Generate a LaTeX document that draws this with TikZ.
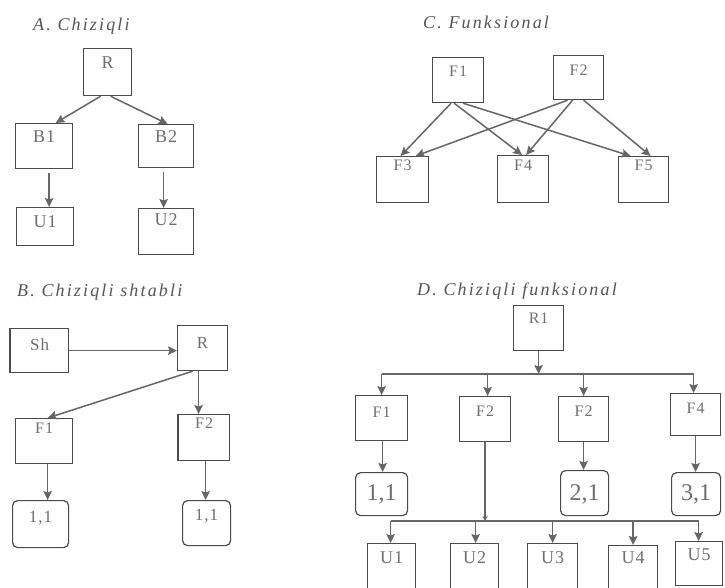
\documentclass[tikz,border=0pt]{standalone}
\usepackage{fontspec}
\setmainfont{Liberation Serif}[LetterSpace=6]
\usetikzlibrary{arrows.meta,calc}
\definecolor{bordc}{HTML}{4A4A4A}
\definecolor{txtc}{HTML}{6E6E6E}
\definecolor{arrc}{HTML}{666666}
\definecolor{ttlc}{HTML}{555555}
\tikzset{
  bx/.style={draw=bordc, line width=1.2pt, inner sep=0pt, anchor=north west, text=txtc},
  rbx/.style={bx, rounded corners=5pt},
  dims/.style n args={3}{minimum width=#1pt, text height=#2pt, text depth=#3pt},
  fs/.style={font=\fontsize{#1}{#1}\selectfont},
  dg/.style={font=\fontsize{24}{24}\selectfont\addfontfeatures{LetterSpace=0}},
  arr/.style={draw=arrc, line width=1.5pt, -{Stealth[length=9pt,width=8.5pt,inset=1.5pt]}},
  ln/.style={draw=arrc, line width=1.5pt},
  ttl/.style={anchor=base west, inner sep=0pt, text=ttlc,
    font=\fontsize{18}{18}\selectfont\itshape\addfontfeatures{LetterSpace=12}},
}
\begin{document}
\begin{tikzpicture}[x=1pt,y=-1pt]
\useasboundingbox (0,0) rectangle (725,587);
\clip (0,0) rectangle (725,587);
\fill[white] (0,0) rectangle (725,587);

% ---------- A. Chiziqli ----------
\node[ttl] (tA) at (33,30) {A. Chiziqli};
\node[bx, dims={48}{20}{27}, fs=18] (aR) at (83,48) {R};
\node[bx, dims={57}{19}{26}, fs=18] (aB1) at (15,123) {B1};
\node[bx, dims={55}{18}{25}, fs=18] (aB2) at (138,124) {B2};
\node[bx, dims={57}{20}{18}, fs=18] (aU1) at (16,207) {U1};
\node[bx, dims={55}{17}{29}, fs=18] (aU2) at (138,208) {U2};
\draw[arr] ([xshift=-7pt]aR.south) -- ([xshift=11.5pt]aB1.north);
\draw[arr] ([xshift=3pt]aR.south) -- ([xshift=1.5pt]aB2.north);
\draw[arr, shorten <=4pt] ([xshift=5pt]aB1.south) -- ([xshift=5pt]aB1.south |- aU1.north);
\draw[arr, shorten <=4pt] ([xshift=-2.5pt]aB2.south) -- ([xshift=-2.5pt]aB2.south |- aU2.north);

% ---------- C. Funksional ----------
\node[ttl] (tC) at (423,28) {C. Funksional};
\node[bx, dims={51}{19}{26}, fs=16] (cF1) at (432,57) {F1};
\node[bx, dims={50}{20}{24}, fs=16] (cF2) at (553,55) {F2};
\node[bx, dims={52}{14}{32}, fs=16] (cF3) at (376,156) {F3};
\node[bx, dims={51}{15}{32}, fs=16] (cF4) at (497,155) {F4};
\node[bx, dims={50}{14}{32}, fs=16] (cF5) at (618,156) {F5};
\draw[arr] ([xshift=-7pt]cF1.south) -- ([xshift=-2pt]cF3.north);
\draw[arr] ([xshift=-4pt]cF1.south) -- ([xshift=-1pt]cF4.north);
\draw[arr] ([xshift=5pt]cF1.south) -- ([xshift=-13pt]cF5.north);
\draw[arr] ([xshift=-11pt]cF2.south) -- ([xshift=13pt]cF3.north);
\draw[arr] ([xshift=-6pt]cF2.south) -- ([xshift=3pt]cF4.north);
\draw[arr] ([xshift=5pt]cF2.south) -- ([xshift=7pt]cF5.north);

% ---------- B. Chiziqli shtabli ----------
\node[ttl] (tB) at (17,296) {B. Chiziqli shtabli};
\node[bx, dims={58}{22}{22}, fs=17] (bSh) at (10,328) {Sh};
\draw[draw=bordc, line width=2.2pt] (bSh.north west) -- (bSh.south west);
\node[bx, dims={50}{23}{22}, fs=17] (bR) at (177,325) {R};
\node[bx, dims={57}{15}{30}, fs=16] (bF1) at (15,418) {F1};
\node[bx, dims={51}{14}{32}, fs=16] (bF2) at (178,414) {F2};
\draw[draw=bordc, line width=2.2pt] (bF2.north west) -- (bF2.south west);
\node[rbx, dims={56}{22}{25}, fs=17] (bL1) at (12,500) {1,1};
\node[rbx, dims={48}{20}{25}, fs=17] (bL2) at (182,500) {1,1};
\draw[arr] (bSh.east) -- (bSh.east -| bR.west);
\draw[arr] ([xshift=-10pt]bR.south) -- ([xshift=3.5pt]bF1.north);
\draw[arr] ([xshift=-4pt]bR.south) -- ([xshift=-4pt]bR.south |- bF2.north);
\draw[arr] ([xshift=3.5pt]bF1.south) -- ([xshift=3.5pt]bF1.south |- bL1.north);
\draw[arr] ([xshift=1.5pt]bF2.south) -- ([xshift=1.5pt]bF2.south |- bL2.north);

% ---------- D. Chiziqli funksional ----------
\node[ttl] (tD) at (417,295) {D. Chiziqli funksional};
\node[bx, dims={50}{18}{27}, fs=16] (dR1) at (513,305) {R1};
\node[bx, dims={52}{22}{23}, fs=16] (dF1) at (355,395) {F1};
\node[bx, dims={51}{20}{25}, fs=16] (dF2) at (459,396) {F2};
\node[bx, dims={50}{20}{25}, fs=16] (dF3) at (558,396) {F2};
\node[bx, dims={50}{20}{22}, fs=16] (dF4) at (670,393) {F4};
\node[rbx, dims={52}{28}{15}, dg] (d11) at (355,472) {1,1};
\node[rbx, dims={48}{30}{15}, dg] (d21) at (560,470) {2,1};
\node[rbx, dims={49}{28}{15}, dg] (d31) at (671,472) {3,1};
\node[bx, dims={48}{20}{30}, fs=18] (dU1) at (367,543) {U1};
\node[bx, dims={48}{20}{30}, fs=18] (dU2) at (450,543) {U2};
\node[bx, dims={50}{20}{30}, fs=18] (dU3) at (527,543) {U3};
\node[bx, dims={49}{18}{30}, fs=18] (dU4) at (608,545) {U4};
\node[bx, dims={47}{19}{25}, fs=18] (dU5) at (675,541) {U5};
\coordinate (busA) at (0,374);
\coordinate (busB) at (0,521);
% upper bus
\draw[arr] (dR1.south) -- (dR1.south |- busA);
\draw[ln] (dF1.north |- busA) -- ([xshift=-2pt]dF4.north |- busA);
\draw[arr] (dF1.north |- busA) -- (dF1.north);
\draw[arr] ([xshift=2.5pt]dF2.north |- busA) -- ([xshift=2.5pt]dF2.north);
\draw[arr] (dF3.north |- busA) -- (dF3.north);
\draw[arr] ([xshift=-2pt]dF4.north |- busA) -- ([xshift=-2pt]dF4.north);
% second row
\draw[arr] ([xshift=1pt]dF1.south) -- ([xshift=1pt]dF1.south |- d11.north);
\draw[arr] (dF3.south) -- (dF3.south |- d21.north);
\draw[arr] (dF4.south) -- (dF4.south |- d31.north);
% lower bus
\draw[draw=arrc, line width=1.5pt, -{Stealth[length=5pt,width=5pt]}] (dF2.south) -- (dF2.south |- busB);
\draw[ln] ([xshift=-1pt]dU1.north |- busB) -- ([xshift=-0.5pt]dU5.north |- busB);
\draw[arr] ([xshift=-1pt]dU1.north |- busB) -- ([xshift=-1pt]dU1.north);
\draw[arr] ([xshift=1pt]dU2.north |- busB) -- ([xshift=1pt]dU2.north);
\draw[arr] (dU3.north |- busB) -- (dU3.north);
\draw[arr] (dU4.north |- busB) -- (dU4.north);
\draw[arr] ([xshift=-0.5pt]dU5.north |- busB) -- ([xshift=-0.5pt]dU5.north);
\end{tikzpicture}
\end{document}
